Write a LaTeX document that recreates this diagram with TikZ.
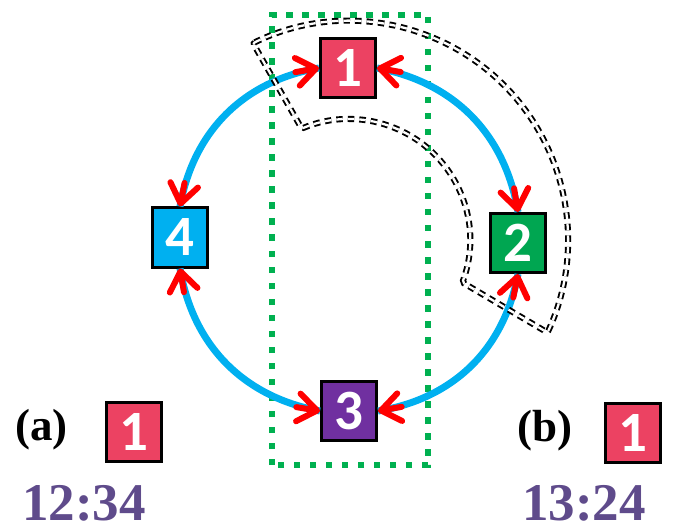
\documentclass[tikz,border=0pt]{standalone}
\usepackage{fontspec}
\setmainfont{Liberation Serif}
\newfontfamily\carl{Carlito}
\usetikzlibrary{arrows.meta}
\definecolor{cpink}{RGB}{236,66,98}
\definecolor{cgreen}{RGB}{0,166,81}
\definecolor{cblue}{RGB}{0,176,240}
\definecolor{cpurple}{RGB}{112,48,160}
\definecolor{dotgreen}{RGB}{0,176,80}
\definecolor{txtpurple}{RGB}{95,75,139}
\tikzset{
  box/.style={draw=black, line width=3pt, minimum width=55pt, minimum height=59pt,
    inner sep=0pt, text=white, font=\carl\bfseries\fontsize{57}{60}\selectfont},
  redarr/.style={draw=red, line width=6pt, line cap=round,
    -{Straight Barb[length=19pt,width=28pt,round]}},
  blueline/.style={draw=cblue, line width=7pt},
  ring/.style={draw=black, line width=1.9pt, double=white, double distance=2.3pt,
    dash pattern=on 6.5pt off 5pt, rounded corners=2pt},
  greendot/.style={draw=dotgreen, line width=6.5pt, dash pattern=on 6.5pt off 9.5pt},
  lab/.style={font=\bfseries\fontsize{45}{48}\selectfont, inner sep=0pt},
  code/.style={font=\bfseries\fontsize{53}{56}\selectfont, text=txtpurple, inner sep=0pt, anchor=base}
}
\begin{document}
\begin{tikzpicture}[x=1pt,y=1pt]
\path[use as bounding box] (0,0) rectangle (687,528);
% green dotted rectangle
\draw[greendot] (272,63) rectangle (428,513);
% nodes of the ring
\node[box, fill=cpink]   (n1) at (348,460)   {1};
\node[box, fill=cgreen]  (n2) at (518,285)   {2};
\node[box, fill=cpurple] (n3) at (349,117)   {3};
\node[box, fill=cblue]   (n4) at (180,290.5) {4};
% blue connectors
\foreach \a/\b in {n2.north/n1.east, n1.west/n4.north, n4.south/n3.west, n3.east/n2.south}{
  \draw[blueline] (\a) to[bend right=35] (\b);
}
% red arrow heads at both ends of every connector
\foreach \p/\d in {n1.west/190, n4.north/79, n4.south/279.5, n3.west/170.7,
                   n3.east/10, n2.south/258.7, n2.north/99.4, n1.east/350.4}{
  \draw[redarr] ([shift={(\d:24)}]\p) -- (\p);
}
% double dashed annulus sector
\coordinate (C) at (349,288);
\draw[ring] ([shift={(116:219)}]C) arc[start angle=116,end angle=-25,radius=219]
  -- ([shift={(-20.5:121)}]C) arc[start angle=-20.5,end angle=113,radius=121] -- cycle;
% legends
\node[lab] (la) at (41.5,98) {(a)};
\node[box, fill=cpink] (ba) at (133.5,96.5) {1};
\node[code] (ca) at (84,8) {12:34};
\node[lab] (lb) at (545,97.5) {(b)};
\node[box, fill=cpink] (bb) at (633,95) {1};
\node[code] (cb) at (584,8) {13:24};
\end{tikzpicture}
\end{document}
